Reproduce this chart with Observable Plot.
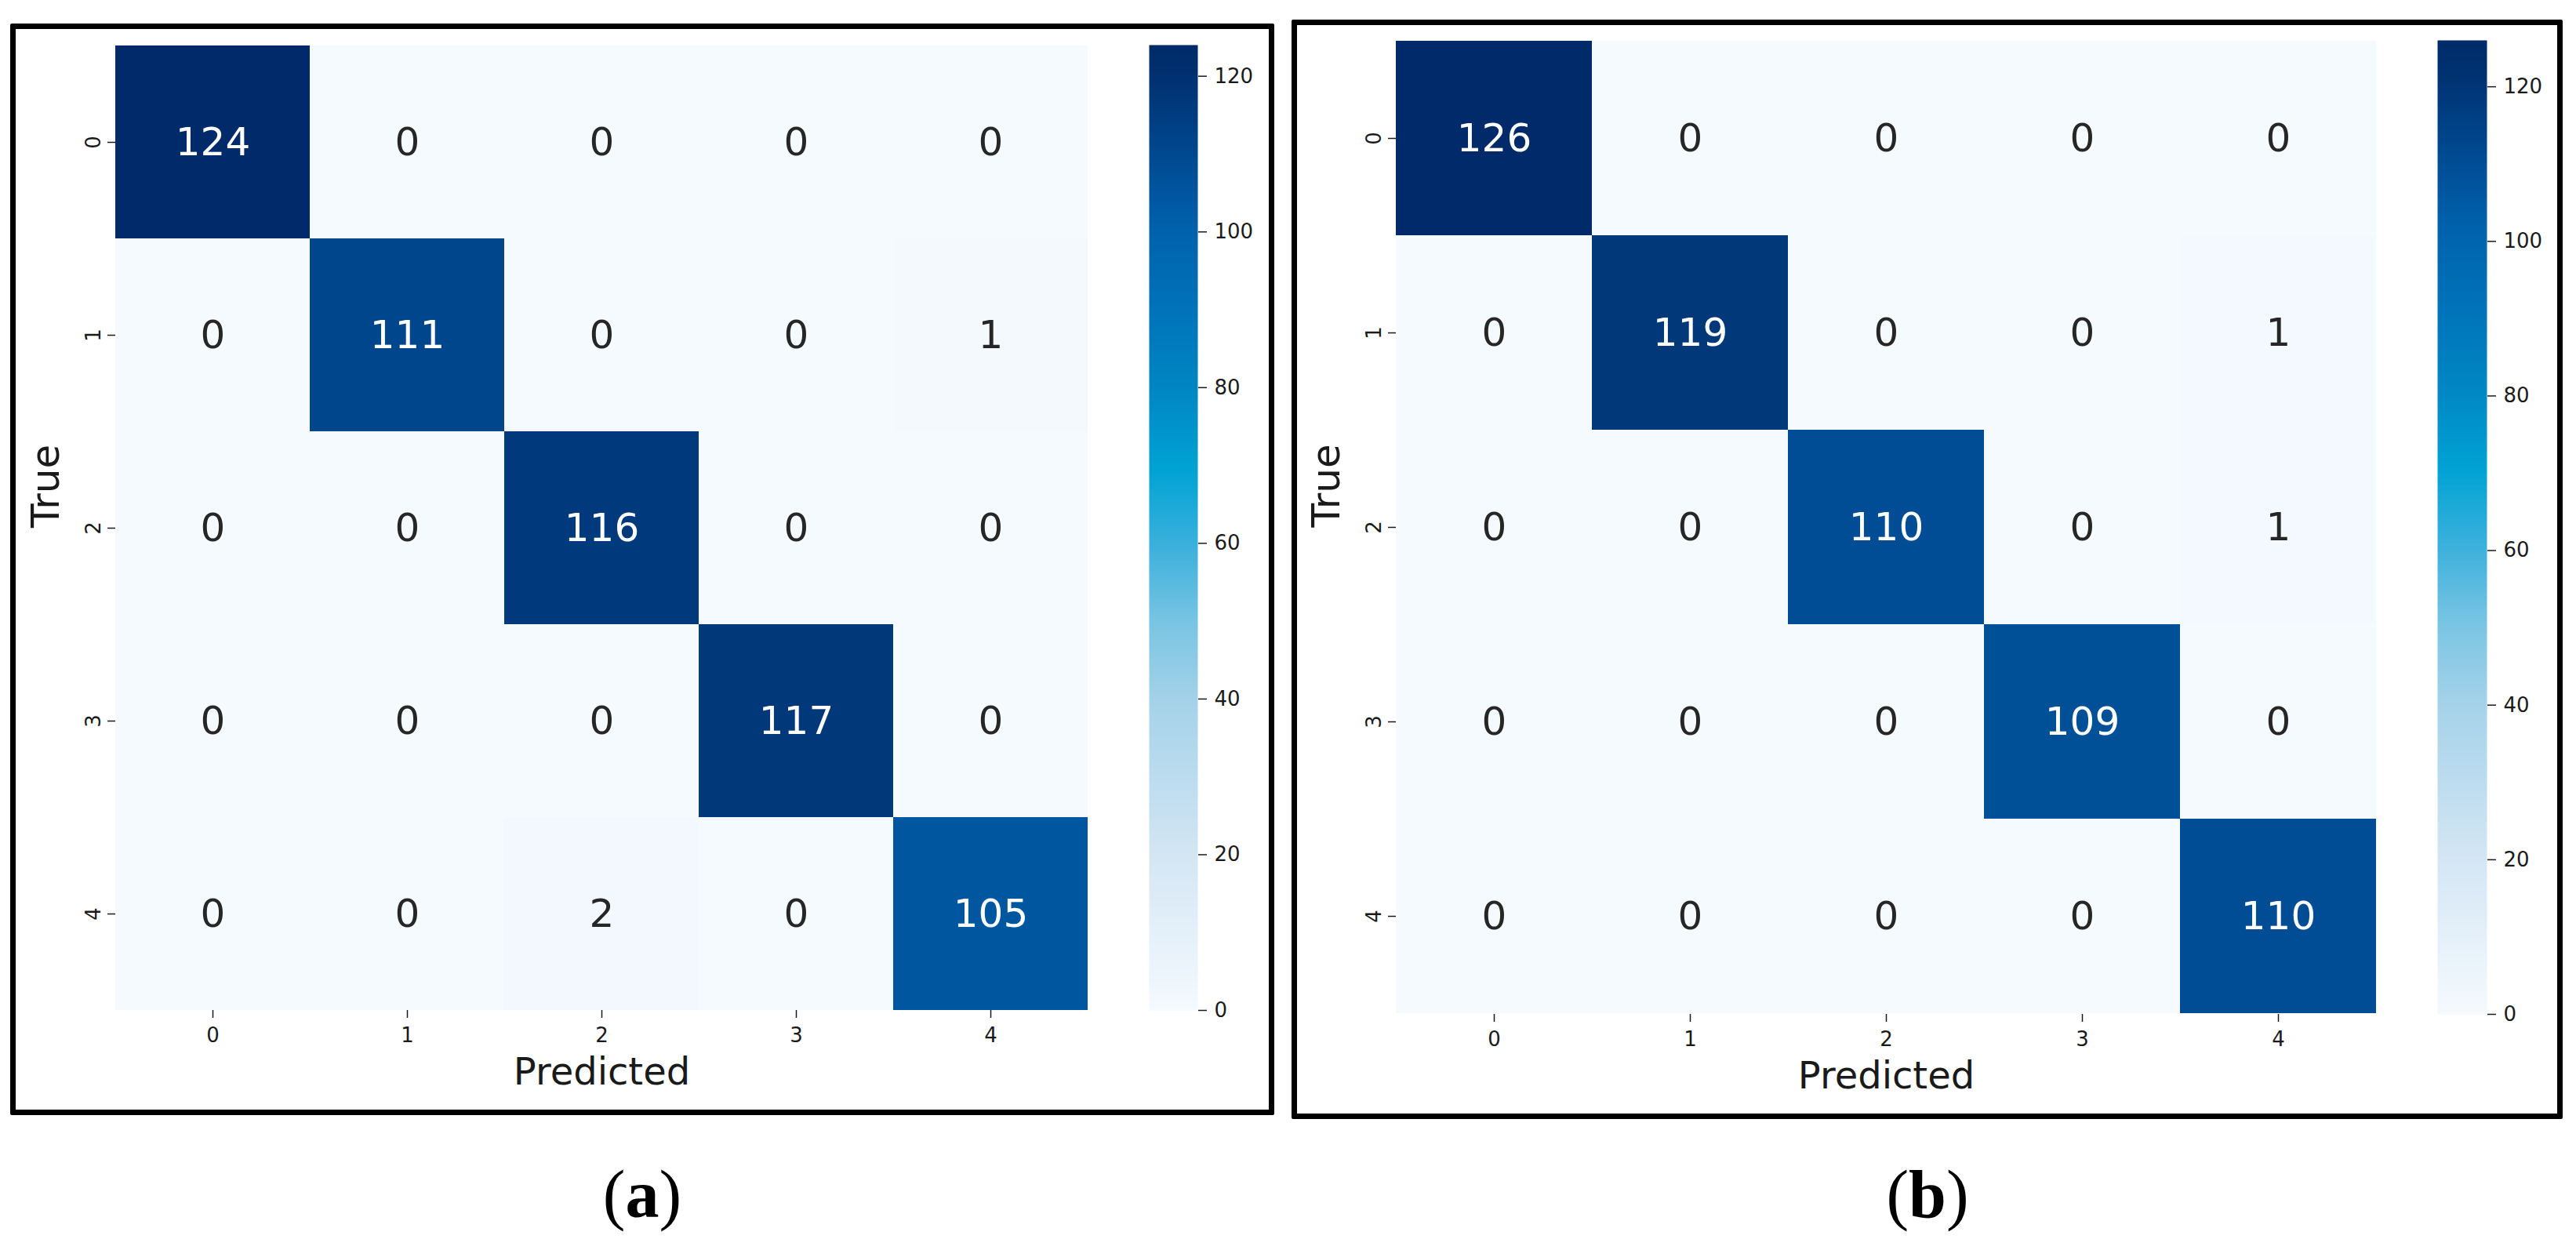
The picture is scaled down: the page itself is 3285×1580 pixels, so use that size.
<!DOCTYPE html>
<html><head><meta charset="utf-8">
<script src="https://cdn.jsdelivr.net/npm/d3@7"></script>
<script src="https://cdn.jsdelivr.net/npm/@observablehq/plot@0.6"></script>
<style>
html,body{margin:0;padding:0;background:#fff;}
#page{position:relative;width:3285px;height:1580px;background:#fff;overflow:hidden;font-family:"DejaVu Sans";}
.box{position:absolute;border:7px solid #000;box-sizing:border-box;border-radius:2px;}
.abs{position:absolute;}
.abs svg{overflow:visible;}
.cap{position:absolute;font-family:"Liberation Serif","Times New Roman",serif;font-size:86px;line-height:1;transform:translate(-50%,-50%);white-space:nowrap;color:#000;}
</style></head><body><div id="page"></div>
<script>
// ---- data ----
const classLabels = ["0", "1", "2", "3", "4"];
const matrixA = [
  [124, 0, 0, 0, 0],
  [0, 111, 0, 0, 1],
  [0, 0, 116, 0, 0],
  [0, 0, 0, 117, 0],
  [0, 0, 2, 0, 105]
];
const matrixB = [
  [126, 0, 0, 0, 0],
  [0, 119, 0, 0, 1],
  [0, 0, 110, 0, 1],
  [0, 0, 0, 109, 0],
  [0, 0, 0, 0, 110]
];
const colorTicks = [0, 20, 40, 60, 80, 100, 120];
const axisTitleX = "Predicted";
const axisTitleY = "True";
const captionLetters = ["a", "b"];

// ---- colour ramp (style: saturated "Blues" as seen in the picture) ----
const rampStops = [0, 0.16, 0.32, 0.40, 0.48, 0.56, 0.645, 0.73, 0.81, 0.89, 0.97, 1];
const rampColors = ["#f5fafe", "#d4e6f4", "#a5d2e9", "#7ac5e3", "#3cb1dc", "#00a3d4",
                    "#0086c3", "#0072b9", "#0061ac", "#00488f", "#003070", "#002a69"];

// ---- layout ----
const page = document.getElementById("page");
const panels = [
  {matrix: matrixA, letter: captionLetters[0],
   box: {l: 13, t: 30, w: 1612, h: 1392},
   hm: {l: 30, t: 40, w: 1400, h: 1370, ml: 117, mt: 17, mr: 43, mb: 122},
   cb: {l: 1440, t: 40, w: 170, h: 1270, ml: 25, mt: 17, mr: 83, mb: 22},
   cap: {x: 819, y: 1523}},
  {matrix: matrixB, letter: captionLetters[1],
   box: {l: 1647, t: 25, w: 1621, h: 1402},
   hm: {l: 1665, t: 35, w: 1415, h: 1375, ml: 115, mt: 16, mr: 50, mb: 117},
   cb: {l: 3080, t: 35, w: 175, h: 1280, ml: 28, mt: 16, mr: 84, mb: 22},
   cap: {x: 2458, y: 1523}}
];

function place(el, l, t) {
  const d = document.createElement("div");
  d.className = "abs";
  d.style.left = l + "px"; d.style.top = t + "px";
  d.appendChild(el);
  page.appendChild(d);
}

const txt = "#1a1a1a";

for (const P of panels) {
  const box = document.createElement("div");
  box.className = "box";
  Object.assign(box.style, {left: P.box.l + "px", top: P.box.t + "px", width: P.box.w + "px", height: P.box.h + "px"});
  page.appendChild(box);

  const max = d3.max(P.matrix.flat());
  const cells = P.matrix.flatMap((row, i) => row.map((v, j) => ({t: classLabels[i], p: classLabels[j], v})));
  const thr = max / 2;
  const colorScale = {type: "linear", domain: rampStops.map(s => s * max), range: rampColors, interpolate: "rgb"};

  const hm = Plot.plot({
    width: P.hm.w, height: P.hm.h,
    marginLeft: P.hm.ml, marginTop: P.hm.mt, marginRight: P.hm.mr, marginBottom: P.hm.mb,
    style: {background: "transparent", fontFamily: "DejaVu Sans", color: txt, overflow: "visible"},
    x: {type: "band", domain: classLabels, padding: 0},
    y: {type: "band", domain: classLabels, padding: 0},
    color: colorScale,
    marks: [
      Plot.cell(cells, {x: "p", y: "t", fill: "v", inset: 0}),
      Plot.text(cells.filter(d => d.v > thr), {x: "p", y: "t", text: d => String(d.v), fill: "white", fontSize: 50}),
      Plot.text(cells.filter(d => d.v <= thr), {x: "p", y: "t", text: d => String(d.v), fill: "#262626", fontSize: 50}),
      Plot.axisX({anchor: "bottom", label: null, tickSize: 10, tickPadding: 12, fontSize: 26, strokeWidth: 1.5}),
      Plot.axisY({anchor: "left", label: null, tickSize: 10, tickPadding: 10, fontSize: 26, tickRotate: -90, strokeWidth: 1.5}),
      Plot.text([axisTitleX], {frameAnchor: "bottom", text: d => d, dy: 79, fontSize: 48, lineAnchor: "middle"}),
      Plot.text([axisTitleY], {frameAnchor: "left", text: d => d, dx: -89, rotate: -90, fontSize: 50, lineAnchor: "middle"})
    ]
  });
  place(hm, P.hm.l, P.hm.t);

  const cb = Plot.plot({
    width: P.cb.w, height: P.cb.h,
    marginLeft: P.cb.ml, marginTop: P.cb.mt, marginRight: P.cb.mr, marginBottom: P.cb.mb,
    style: {background: "transparent", fontFamily: "DejaVu Sans", color: txt, overflow: "visible"},
    x: {domain: [0, 1], axis: null},
    y: {domain: [0, max]},
    color: colorScale,
    marks: [
      Plot.raster({x1: 0, x2: 1, y1: 0, y2: max, width: 1, height: 512, fill: (x, y) => y}),
      Plot.axisY({anchor: "right", ticks: colorTicks, label: null, tickSize: 11, tickPadding: 10, fontSize: 26, strokeWidth: 1.5})
    ]
  });
  place(cb, P.cb.l, P.cb.t);

  const cap = document.createElement("div");
  cap.className = "cap";
  cap.style.left = P.cap.x + "px"; cap.style.top = P.cap.y + "px";
  cap.innerHTML = "(<b>" + P.letter + "</b>)";
  page.appendChild(cap);
}
</script>
</body></html>
